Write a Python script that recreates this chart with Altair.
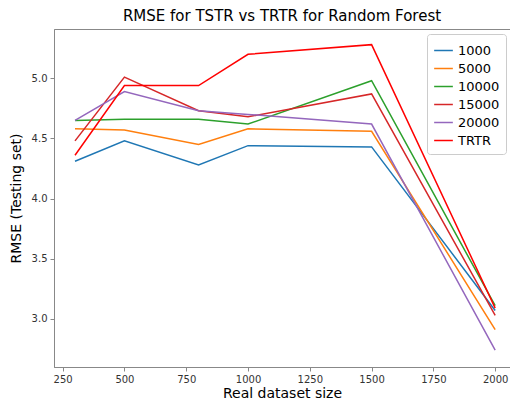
import altair as alt
import pandas as pd

sizes = [300, 500, 800, 1000, 1500, 2000]
series_names = ["1000", "5000", "10000", "15000", "20000", "TRTR"]
rmse_1000 = [4.31, 4.48, 4.28, 4.44, 4.43, 3.07]
rmse_5000 = [4.58, 4.57, 4.45, 4.58, 4.56, 2.91]
rmse_10000 = [4.65, 4.66, 4.66, 4.62, 4.98, 3.11]
rmse_15000 = [4.48, 5.01, 4.73, 4.68, 4.87, 3.03]
rmse_20000 = [4.65, 4.89, 4.73, 4.70, 4.62, 2.74]
rmse_trtr = [4.36, 4.94, 4.94, 5.20, 5.28, 3.09]
colors = ["#1f77b4", "#ff7f0e", "#2ca02c", "#d62728", "#9467bd", "#ff0000"]

all_vals = [rmse_1000, rmse_5000, rmse_10000, rmse_15000, rmse_20000, rmse_trtr]
rows = []
for name, vals in zip(series_names, all_vals):
    for s, v in zip(sizes, vals):
        rows.append({"size": s, "rmse": v, "series": name})
df = pd.DataFrame(rows)

font = "DejaVu Sans"

chart = alt.Chart(df).mark_line(strokeWidth=1.5, clip=True).encode(
    x=alt.X("size:Q",
            scale=alt.Scale(domain=[215, 2060], nice=False, zero=False),
            axis=alt.Axis(values=[250, 500, 750, 1000, 1250, 1500, 1750, 2000],
                          format="d", title="Real dataset size", grid=False)),
    y=alt.Y("rmse:Q",
            scale=alt.Scale(domain=[2.60, 5.41], nice=False, zero=False),
            axis=alt.Axis(values=[3.0, 3.5, 4.0, 4.5, 5.0], format=".1f",
                          title="RMSE (Testing set)", grid=False)),
    color=alt.Color("series:N",
                    scale=alt.Scale(domain=series_names, range=colors),
                    legend=alt.Legend(title=None, orient="none", legendX=373, legendY=5,
                                      symbolType="stroke", symbolStrokeWidth=1.5,
                                      symbolSize=350, labelFontSize=13, labelFont=font,
                                      labelColor="#000", rowPadding=0,
                                      strokeColor="#cccccc", fillColor="white",
                                      padding=6, cornerRadius=3)),
    order=alt.Order("size:Q"),
    detail="series:N",
).properties(
    width=456,
    height=338,
    title=alt.TitleParams("RMSE for TSTR vs TRTR for Random Forest", fontSize=15,
                          font=font, fontWeight="normal", color="#000", offset=5),
    autosize=alt.AutoSizeParams(type="none"),
    padding={"left": 46, "top": 21, "right": 0, "bottom": 33},
).configure_view(
    stroke="#888888", strokeWidth=1
).configure_axis(
    labelFont=font, labelFontSize=10, labelColor="#333333",
    titleFont=font, titleFontSize=14, titleFontWeight="normal", titleColor="#000",
    domainColor="#888888", tickColor="#888888", tickSize=4, labelPadding=3,
).configure_axisX(titlePadding=2).configure_axisY(titlePadding=8)

chart.save("out.html", embed_options={"renderer": "svg", "actions": False})
